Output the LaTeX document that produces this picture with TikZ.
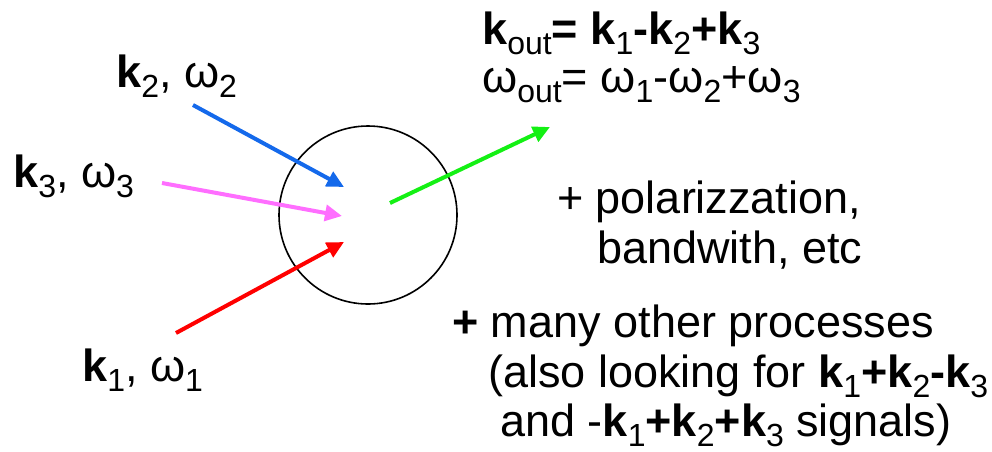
\documentclass[tikz,border=0pt]{standalone}
\usepackage{fontspec}
\setmainfont{Liberation Sans}
\usetikzlibrary{arrows.meta}
\definecolor{kblue}{RGB}{20,105,235}
\definecolor{kpink}{RGB}{255,110,255}
\definecolor{kred}{RGB}{255,0,0}
\definecolor{kgreen}{RGB}{20,240,20}
\newcommand{\lsub}[1]{\raisebox{-10pt}[0pt][0pt]{\fontsize{32}{32}\selectfont #1}}
\newcommand{\bk}{\textbf{k}}
\begin{document}
\begin{tikzpicture}[x=1pt,y=-1pt,
  lbl/.style={anchor=base west,inner sep=0pt,font=\fontsize{45}{50}\selectfont},
  beam/.style={line width=4pt,-{Triangle[length=17pt,width=16pt]}}]
\useasboundingbox (0,0) rectangle (992,451);
\node[draw,circle,line width=1.6pt,minimum size=178pt,inner sep=0pt] (c) at (368,215) {};
% arrows
\coordinate (b0) at (193,105); \coordinate (b1) at (344,187);
\coordinate (p0) at (162,183); \coordinate (p1) at (342,216);
\coordinate (r0) at (176,333); \coordinate (r1) at (344,242);
\coordinate (g0) at (390,203); \coordinate (g1) at (550,127);
\draw[beam,kblue] (b0) -- (b1);
\draw[beam,kpink] (p0) -- (p1);
\draw[beam,kred] (r0) -- (r1);
\draw[beam,kgreen] (g0) -- (g1);
% labels
\node[lbl] (l2) at (116,87) {\bk\lsub{2}, ω\lsub{2}};
\node[lbl] (l3) at (13,187) {\bk\lsub{3}, ω\lsub{3}};
\node[lbl] (l1) at (82,381) {\bk\lsub{1}, ω\lsub{1}};
\node[lbl] (e1) at (482,44) {\bk\lsub{out}\textbf{= }\bk\lsub{1}\textbf{-}\bk\lsub{2}\textbf{+}\bk\lsub{3}};
\node[lbl] (e2) at (482,92) {ω\lsub{out}= ω\lsub{1}-ω\lsub{2}+ω\lsub{3}};
\node[lbl] (t1) at (557,213) {+ polarizzation,};
\node[lbl] (t2) at (597,263) {bandwith, etc};
\node[lbl] (t3) at (452,337) {\textbf{+} many other processes};
\node[lbl] (t4) at (488,387) {(also looking for \bk\lsub{1}\textbf{+}\bk\lsub{2}\textbf{-}\bk\lsub{3}};
\node[lbl] (t5) at (500,436) {and -\bk\lsub{1}\textbf{+}\bk\lsub{2}\textbf{+}\bk\lsub{3} signals)};
\end{tikzpicture}
\end{document}
